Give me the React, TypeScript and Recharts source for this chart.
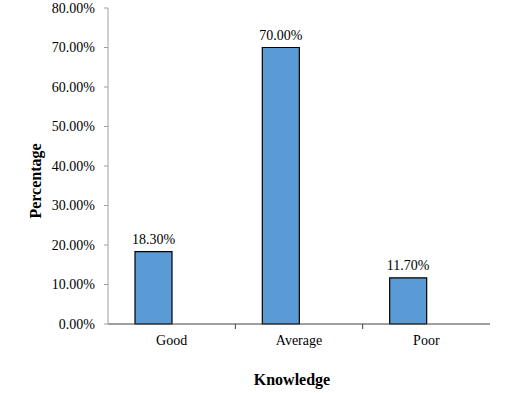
import React from 'react';
import { BarChart, Bar, XAxis, YAxis, LabelList, Label } from 'recharts';

const categories = ['Good', 'Average', 'Poor'];
const percentValues = [18.3, 70.0, 11.7];
const yTicks = [0, 10, 20, 30, 40, 50, 60, 70, 80];

// second series is empty; it only reserves the slot next to each bar, like the source chart
const data = categories.map((name, i) => ({ name, pct: percentValues[i], empty: null }));

const FONT = '"Liberation Serif", "Times New Roman", serif';
const W = 510;
const H = 393;
const margin = { top: 8, right: 20, bottom: 0, left: 0 };
const yAxisWidth = 108;
const xAxisHeight = 69;
const bandWidth = (W - margin.left - margin.right - yAxisWidth) / categories.length;

const fmt = (v: number) => `${Number(v).toFixed(2)}%`;

const XTick = (props: any) => {
  const { x, y, payload, index } = props;
  const axisY = y - 8; // default tickSize + tickMargin
  return (
    <g>
      {index > 0 && (
        <line x1={x - bandWidth / 2} x2={x - bandWidth / 2} y1={axisY} y2={axisY + 5} stroke="#404040" />
      )}
      <text x={x} y={axisY + 21} textAnchor="middle" fontFamily={FONT} fontSize={14} fill="#000">
        {payload.value}
      </text>
    </g>
  );
};

const YTick = (props: any) => {
  const { x, y, payload } = props;
  return (
    <text x={x} y={y} dy="0.355em" textAnchor="end" fontFamily={FONT} fontSize={14} fill="#000">
      {fmt(payload.value)}
    </text>
  );
};

const YTitle = (props: any) => {
  const { viewBox } = props;
  const cx = viewBox.x + 35;
  const cy = viewBox.y + viewBox.height / 2 + 15;
  return (
    <text
      x={cx}
      y={cy}
      transform={`rotate(-90, ${cx}, ${cy})`}
      textAnchor="middle"
      dominantBaseline="central"
      fontFamily={FONT}
      fontSize={16}
      fontWeight="bold"
      fill="#000"
    >
      Percentage
    </text>
  );
};

const XTitle = (props: any) => {
  const { viewBox } = props;
  const cx = viewBox.x + viewBox.width / 2 - 7;
  return (
    <text x={cx} y={viewBox.y + 61} textAnchor="middle" fontFamily={FONT} fontSize={16} fontWeight="bold" fill="#000">
      Knowledge
    </text>
  );
};

const BarValue = (props: any) => {
  const { x, y, width, value } = props;
  return (
    <text x={x + width / 2} y={y - 8} textAnchor="middle" fontFamily={FONT} fontSize={14} fill="#000">
      {fmt(value)}
    </text>
  );
};

export default function App() {
  return (
    <div style={{ position: 'absolute', left: 0, top: 0, width: W, height: H, background: '#fff', fontFamily: FONT }}>
      <BarChart width={W} height={H} data={data} margin={margin} barGap={0} barSize={37}>
        <XAxis
          dataKey="name"
          height={xAxisHeight}
          axisLine={{ stroke: '#404040', strokeWidth: 1 }}
          tickLine={false}
          tick={<XTick />}
          interval={0}
        >
          <Label content={<XTitle />} />
        </XAxis>
        <YAxis
          width={yAxisWidth}
          domain={[0, 80]}
          ticks={yTicks}
          axisLine={{ stroke: '#a0a0a0', strokeWidth: 1 }}
          tickLine={{ stroke: '#a0a0a0' }}
          tickSize={4}
          tickMargin={9}
          tick={<YTick />}
          interval={0}
        >
          <Label content={<YTitle />} />
        </YAxis>
        <Bar dataKey="pct" fill="#5B9BD5" stroke="#000" strokeWidth={1.2} isAnimationActive={false}>
          <LabelList dataKey="pct" content={<BarValue />} />
        </Bar>
        <Bar dataKey="empty" fill="#ED7D31" isAnimationActive={false} />
      </BarChart>
    </div>
  );
}
